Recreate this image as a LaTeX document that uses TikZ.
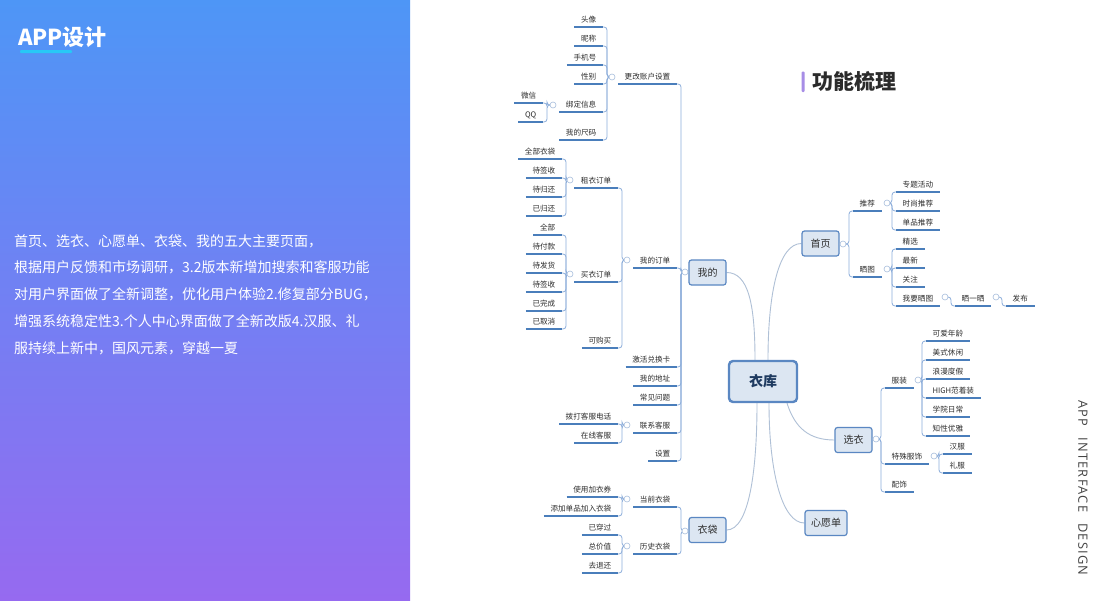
\documentclass[tikz,border=0pt]{standalone}
\usepackage{fontspec}
\setmainfont{Noto Sans CJK SC}
\newfontfamily\latinf[LetterSpace=10]{Open Sans}
\usetikzlibrary{calc}
\definecolor{ulc}{HTML}{4A7EBB}
\definecolor{cnc}{HTML}{8DAEDB}
\definecolor{mcc}{HTML}{AFC0D6}
\definecolor{boxf}{HTML}{DCE6F2}
\definecolor{boxd}{HTML}{5A87C2}
\definecolor{togc}{HTML}{A8BEDC}
\definecolor{leaft}{HTML}{2E2E2E}
\definecolor{gradtop}{HTML}{4E96F6}
\definecolor{gradbot}{HTML}{966AF0}
\definecolor{barcyan}{HTML}{27C8F6}
\definecolor{barpurple}{HTML}{A78DE6}
\definecolor{headc}{HTML}{2B2B2B}
\definecolor{vtc}{HTML}{444444}
\definecolor{centc}{HTML}{1E3A60}
\pgfdeclarelayer{back}
\pgfdeclarelayer{bg}
\pgfsetlayers{back,bg,main}
\tikzset{
  leaf/.style={font=\fontsize{7.6}{9}\selectfont, text=leaft, inner xsep=6.5pt, inner ysep=3.5pt, text height=6.4pt, text depth=1.2pt},
  mbox/.style={rounded corners=2.5pt, draw=boxd, line width=1.2pt, fill=boxf, minimum width=37pt, minimum height=25pt, inner xsep=6pt, font=\fontsize{10}{12}\selectfont, text=leaft},
  cbox/.style={rounded corners=4pt, draw=boxd, line width=2.4pt, fill=boxf, minimum width=68pt, minimum height=41pt, font=\fontsize{14}{16}\selectfont\bfseries, text=centc},
  tog/.style={circle, draw=togc, fill=white, line width=0.6pt, minimum size=6pt, inner sep=0pt},
  conn/.style={draw=cnc, line width=0.8pt, rounded corners=3pt},
  mconn/.style={draw=mcc, line width=0.9pt},
  ul/.style={draw=ulc, line width=1.6pt}
}
\newcommand\linkL[2]{\draw[conn] (#1.center) -| ([xshift=4pt]#2.south east) -- (#2.south east);}
\newcommand\linkR[2]{\draw[conn] (#1.center) -| ([xshift=-4pt]#2.south west) -- (#2.south west);}
\begin{document}
\begin{tikzpicture}[x=1pt,y=-1pt]
\useasboundingbox (0,0) rectangle (1114,600);
\begin{pgfonlayer}{back}
\fill[white] (0,0) rectangle (1114,600);
\shade[top color=gradtop, bottom color=gradbot] (0,0) rectangle (410,600);
\end{pgfonlayer}
% left panel
\node[anchor=west, inner sep=0pt, font=\fontsize{22}{24}\selectfont\bfseries, text=white] (title) at (18,37) {APP设计};
\fill[barcyan, rounded corners=1pt] (20,50) rectangle (72,53);
\node[anchor=base west, inner sep=0pt, text width=392pt, align=left, text=white, font=\fontsize{14}{26.8}\selectfont] (body) at (14,246)
{首页、选衣、心愿单、衣袋、我的五大主要页面，\\根据用户反馈和市场调研，3.2版本新增加搜索和客服功能\\对用户界面做了全新调整，优化用户体验2.修复部分BUG，\\增强系统稳定性3.个人中心界面做了全新改版4.汉服、礼\\服持续上新中，国风元素，穿越一夏};
% heading
\fill[barpurple, rounded corners=1pt] (801.5,71.5) rectangle (804.5,92);
\node[anchor=west, inner sep=0pt, font=\fontsize{21}{24}\selectfont\bfseries, text=headc] (head) at (812,81) {功能梳理};
\node[rotate=-90, anchor=west, inner sep=0pt, font=\latinf\fontsize{12.8}{14}\selectfont, text=vtc] (vt) at (1083,400) {APP\hspace{11pt}INTERFACE\hspace{11pt}DESIGN};

% main boxes
\node[cbox] (yk) at (763,381.5) {衣库};
\node[mbox] (wd) at (707.5,272.5) {我的};
\node[mbox] (sy) at (820.5,243.5) {首页};
\node[mbox] (xy) at (853.5,440) {选衣};
\node[mbox] (xyd) at (826,523) {心愿单};
\node[mbox] (yd) at (707.5,530) {衣袋};

% toggles
\node[tog] (wdc) at (685,272) {};
\node[tog] (ggc) at (612,77) {};
\node[tog] (bdc) at (553,105) {};
\node[tog] (ddc) at (627,260) {};
\node[tog] (zyc) at (570,180) {};
\node[tog] (myc) at (570,274) {};
\node[tog] (lxc) at (627,425) {};
\node[tog] (ydc) at (685,531) {};
\node[tog] (dqc) at (627,499) {};
\node[tog] (lsc) at (627,546) {};
\node[tog] (syc) at (843,244) {};
\node[tog] (tjc) at (887,203) {};
\node[tog] (stc) at (887,269) {};
\node[tog] (wyc) at (945,297) {};
\node[tog] (sysc) at (996,297) {};
\node[tog] (xyc) at (876,439) {};
\node[tog] (fzc) at (918,380) {};
\node[tog] (tsc) at (934,456) {};

% 我的 subtree
\node[leaf, anchor=south east] (gg) at (677,84) {更改账户设置};
\node[leaf, anchor=south east] (dd) at (677,268) {我的订单};
\node[leaf, anchor=south east] (jh) at (677,367) {激活兑换卡};
\node[leaf, anchor=south east] (dz) at (677,386) {我的地址};
\node[leaf, anchor=south east] (cj) at (677,405) {常见问题};
\node[leaf, anchor=south east] (lx) at (677,433) {联系客服};
\node[leaf, anchor=south east] (sz) at (677,461) {设置};
\node[leaf, anchor=south east] (tx) at (603,27) {头像};
\node[leaf, anchor=south east] (nc) at (603,46) {昵称};
\node[leaf, anchor=south east] (sj) at (603,65) {手机号};
\node[leaf, anchor=south east] (xb) at (603,84) {性别};
\node[leaf, anchor=south east] (bd) at (603,112) {绑定信息};
\node[leaf, anchor=south east] (cm) at (603,140) {我的尺码};
\node[leaf, anchor=south east] (wx) at (543,103) {微信};
\node[leaf, anchor=south east] (qq) at (543,122) {QQ};
\node[leaf, anchor=south east] (zy) at (618,188) {租衣订单};
\node[leaf, anchor=south east] (my) at (618,282) {买衣订单};
\node[leaf, anchor=south east] (kg) at (618,348) {可购买};
\node[leaf, anchor=south east] (qb) at (562,159) {全部衣袋};
\node[leaf, anchor=south east] (dqa) at (562,178) {待签收};
\node[leaf, anchor=south east] (dg) at (562,197) {待归还};
\node[leaf, anchor=south east] (yg) at (562,216) {已归还};
\node[leaf, anchor=south east] (qbb) at (562,235) {全部};
\node[leaf, anchor=south east] (dfk) at (562,254) {待付款};
\node[leaf, anchor=south east] (dfh) at (562,273) {待发货};
\node[leaf, anchor=south east] (dqb) at (562,292) {待签收};
\node[leaf, anchor=south east] (ywc) at (562,311) {已完成};
\node[leaf, anchor=south east] (yqx) at (562,329) {已取消};
\node[leaf, anchor=south east] (bk) at (618,424) {拨打客服电话};
\node[leaf, anchor=south east] (zk) at (618,443) {在线客服};
% 衣袋 subtree
\node[leaf, anchor=south east] (dqd) at (677,507) {当前衣袋};
\node[leaf, anchor=south east] (lsd) at (677,554) {历史衣袋};
\node[leaf, anchor=south east] (syj) at (618,497) {使用加衣券};
\node[leaf, anchor=south east] (tjd) at (618,516) {添加单品加入衣袋};
\node[leaf, anchor=south east] (ycg) at (618,535) {已穿过};
\node[leaf, anchor=south east] (zjz) at (618,554) {总价值};
\node[leaf, anchor=south east] (qth) at (618,573) {去退还};
% 首页 subtree
\node[leaf, anchor=south west] (tj) at (853,211) {推荐};
\node[leaf, anchor=south west] (st) at (853,277) {晒图};
\node[leaf, anchor=south west] (zt) at (896,192) {专题活动};
\node[leaf, anchor=south west] (ss) at (896,211) {时尚推荐};
\node[leaf, anchor=south west] (dp) at (896,230) {单品推荐};
\node[leaf, anchor=south west] (jx) at (896,249) {精选};
\node[leaf, anchor=south west] (zx) at (896,268) {最新};
\node[leaf, anchor=south west] (gz) at (896,287) {关注};
\node[leaf, anchor=south west] (wy) at (896,306) {我要晒图};
\node[leaf, anchor=south west] (sys) at (955,306) {晒一晒};
\node[leaf, anchor=south west] (fb) at (1006,306) {发布};
% 选衣 subtree
\node[leaf, anchor=south west] (fz) at (885,388) {服装};
\node[leaf, anchor=south west] (ts) at (885,464) {特殊服饰};
\node[leaf, anchor=south west] (ps) at (885,492) {配饰};
\node[leaf, anchor=south west] (ka) at (926,341) {可爱年龄};
\node[leaf, anchor=south west] (ms) at (926,360) {美式休闲};
\node[leaf, anchor=south west] (lm) at (926,379) {浪漫度假};
\node[leaf, anchor=south west] (hi) at (926,398) {HIGH范着装};
\node[leaf, anchor=south west] (xyr) at (926,417) {学院日常};
\node[leaf, anchor=south west] (zxy) at (926,436) {知性优雅};
\node[leaf, anchor=south west] (hf) at (943,454) {汉服};
\node[leaf, anchor=south west] (lf) at (943,473) {礼服};

% underlines
\foreach \n in {gg,dd,jh,dz,cj,lx,sz,tx,nc,sj,xb,bd,cm,wx,qq,zy,my,kg,qb,dqa,dg,yg,qbb,dfk,dfh,dqb,ywc,yqx,bk,zk,dqd,lsd,syj,tjd,ycg,zjz,qth,tj,st,zt,ss,dp,jx,zx,gz,wy,sys,fb,fz,ts,ps,ka,ms,lm,hi,xyr,zxy,hf,lf}
  \draw[ul] (\n.south west) -- (\n.south east);

\begin{pgfonlayer}{bg}
% main connectors
\draw[mconn] ([xshift=-8pt]yk.north) .. controls +(0,-55) and +(22,0) .. (wd.east);
\draw[mconn] ([xshift=5pt]yk.north) .. controls +(0,-70) and +(-22,0) .. (sy.west);
\draw[mconn] ([xshift=24pt]yk.south) .. controls +(8,25) and +(-25,0) .. (xy.west);
\draw[mconn] ([xshift=-6pt]yk.south) .. controls +(0,70) and +(22,0) .. (yd.east);
\draw[mconn] ([xshift=6pt]yk.south) .. controls +(0,70) and +(-22,0) .. (xyd.west);
% subtree links
\foreach \c in {gg,dd,jh,dz,cj,lx,sz} {\linkL{wdc}{\c}}
\foreach \c in {tx,nc,sj,xb,bd,cm} {\linkL{ggc}{\c}}
\foreach \c in {wx,qq} {\linkL{bdc}{\c}}
\foreach \c in {zy,my,kg} {\linkL{ddc}{\c}}
\foreach \c in {qb,dqa,dg,yg} {\linkL{zyc}{\c}}
\foreach \c in {qbb,dfk,dfh,dqb,ywc,yqx} {\linkL{myc}{\c}}
\foreach \c in {bk,zk} {\linkL{lxc}{\c}}
\foreach \c in {dqd,lsd} {\linkL{ydc}{\c}}
\foreach \c in {syj,tjd} {\linkL{dqc}{\c}}
\foreach \c in {ycg,zjz,qth} {\linkL{lsc}{\c}}
\foreach \c in {tj,st} {\linkR{syc}{\c}}
\foreach \c in {zt,ss,dp} {\linkR{tjc}{\c}}
\foreach \c in {jx,zx,gz,wy} {\linkR{stc}{\c}}
\linkR{wyc}{sys}
\linkR{sysc}{fb}
\foreach \c in {fz,ts,ps} {\linkR{xyc}{\c}}
\foreach \c in {ka,ms,lm,hi,xyr,zxy} {\linkR{fzc}{\c}}
\foreach \c in {hf,lf} {\linkR{tsc}{\c}}
\end{pgfonlayer}
\end{tikzpicture}
\end{document}
